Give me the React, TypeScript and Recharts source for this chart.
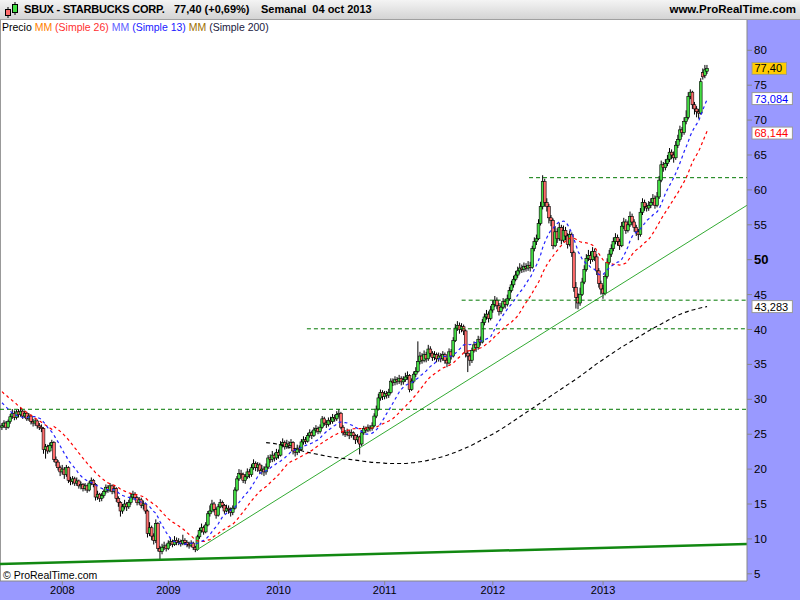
import React from "react";
import { ComposedChart, Bar, Line, XAxis, YAxis, ReferenceLine } from "recharts";

// weekly candles (index = week from the left edge)
const opens = [
  26.0, 26.2, 26.6, 26.0, 26.8, 27.5, 28.0, 27.4, 28.2, 27.8,
  28.3, 27.6, 28.0, 27.2, 27.6, 26.8, 26.6, 26.9, 26.2, 26.0,
  25.8, 22.8, 23.2, 22.6, 23.4, 23.8, 21.4, 21.0, 20.2, 19.6,
  20.0, 19.2, 20.2, 18.4, 18.2, 18.6, 18.0, 18.3, 17.6, 17.8,
  17.2, 17.6, 17.0, 18.0, 18.4, 17.8, 16.0, 16.4, 15.8, 16.2,
  16.8, 17.4, 17.0, 17.6, 16.8, 17.2, 15.8, 15.2, 14.0, 14.6,
  15.0, 14.6, 15.2, 16.0, 16.4, 15.9, 15.2, 15.6, 14.8, 15.0,
  14.0, 10.8, 11.6, 10.4, 9.8, 12.2, 8.6, 8.2, 8.8, 9.0,
  8.6, 9.4, 9.6, 9.2, 9.8, 9.5, 9.6, 9.3, 9.8, 9.5,
  9.2, 9.0, 9.4, 8.8, 8.5, 10.3, 11.2, 11.6, 11.0, 12.0,
  13.6, 14.0, 15.0, 14.2, 13.4, 14.6, 15.2, 14.8, 14.0, 14.4,
  14.2, 13.8, 14.4, 17.0, 18.6, 19.4, 19.2, 18.4, 18.9, 19.6,
  19.2, 20.2, 20.8, 20.2, 20.6, 19.8, 20.0, 19.6, 20.3, 21.6,
  21.4, 22.0, 21.6, 22.4, 22.0, 23.5, 23.8, 23.2, 23.6, 23.4,
  23.8, 22.6, 22.4, 23.0, 22.8, 23.9, 24.2, 24.0, 24.8, 25.2,
  24.8, 25.6, 25.8, 25.4, 26.0, 27.2, 26.6, 26.4, 27.0, 26.8,
  27.4, 27.2, 27.8, 28.0, 26.0, 25.2, 25.0, 25.3, 24.8, 25.2,
  24.8, 24.2, 24.6, 23.6, 25.2, 25.8, 25.6, 26.0, 25.8, 26.2,
  27.6, 28.6, 30.2, 31.0, 30.4, 30.8, 30.6, 31.0, 32.6, 32.4,
  32.8, 32.6, 33.0, 32.5, 32.8, 33.2, 33.4, 31.4, 32.6, 33.6,
  34.0, 35.4, 36.2, 35.6, 36.4, 35.8, 37.2, 36.6, 36.0, 36.4,
  35.8, 36.2, 35.8, 36.4, 35.6, 35.2, 36.8, 36.2, 38.4, 40.2,
  40.6, 40.0, 40.4, 39.8, 36.6, 36.2, 35.6, 37.0, 37.8, 37.4,
  38.6, 38.2, 41.0, 41.8, 42.2, 41.6, 42.8, 43.6, 44.2, 43.4,
  42.6, 43.2, 44.0, 43.6, 44.4, 45.6, 46.4, 47.2, 47.8, 48.4,
  48.8, 48.6, 49.0, 48.8, 49.2, 48.9, 51.6, 52.6, 53.0, 55.2,
  57.6, 61.2, 58.2, 57.6, 56.0, 55.6, 52.0, 54.0, 53.0, 54.6,
  52.8, 54.2, 53.4, 52.2, 53.6, 51.0, 46.0, 44.6, 43.8, 45.0,
  46.8, 48.6, 50.2, 50.6, 50.0, 51.2, 50.4, 48.4, 46.6, 45.8,
  45.2, 47.6, 49.6, 50.8, 51.6, 52.6, 53.2, 52.6, 52.0, 54.8,
  55.4, 54.2, 55.0, 56.2, 55.4, 54.6, 54.0, 53.6, 56.8, 58.2,
  57.6, 57.4, 57.8, 58.2, 58.8, 57.8, 59.0, 61.4, 63.6, 63.2,
  63.8, 64.4, 65.4, 65.0, 64.6, 66.4, 67.2, 68.6, 68.2, 69.8,
  70.4, 73.4, 74.0, 72.2, 71.6, 71.2, 71.0, 76.8, 76.4, 77.0,
];

const highs = [
  26.6, 27.0, 26.9, 27.1, 27.9, 28.6, 28.4, 28.5, 28.6, 28.9,
  28.5, 28.4, 28.2, 28.0, 27.8, 27.2, 27.3, 27.1, 26.6, 26.4,
  26.0, 23.6, 23.5, 23.8, 24.2, 24.0, 21.8, 21.3, 20.5, 20.6,
  20.3, 20.6, 20.4, 18.9, 19.0, 18.9, 18.8, 18.5, 18.2, 18.0,
  18.0, 17.8, 18.3, 18.8, 18.6, 18.0, 16.9, 16.6, 16.6, 17.1,
  17.8, 17.7, 18.0, 17.8, 17.6, 17.4, 16.1, 15.4, 15.0, 15.6,
  15.3, 15.6, 16.6, 16.9, 16.7, 16.1, 16.0, 15.9, 15.5, 15.2,
  14.2, 12.4, 11.9, 10.8, 12.8, 12.4, 9.0, 9.3, 9.6, 9.3,
  9.8, 10.2, 9.9, 10.4, 10.2, 10.1, 9.9, 10.6, 10.1, 9.8,
  9.6, 9.8, 9.6, 9.0, 10.6, 11.6, 12.2, 11.9, 12.4, 14.0,
  14.8, 15.6, 15.3, 14.5, 15.0, 15.7, 15.5, 15.0, 14.9, 14.8,
  14.5, 14.8, 17.4, 19.0, 20.0, 19.9, 19.5, 19.3, 20.1, 20.0,
  20.7, 21.4, 21.1, 21.0, 20.9, 20.6, 20.4, 20.8, 22.0, 22.1,
  22.6, 22.3, 22.9, 22.8, 24.0, 24.4, 24.1, 24.2, 24.0, 24.3,
  24.0, 23.0, 23.5, 23.4, 24.3, 24.7, 24.6, 25.2, 25.7, 25.5,
  26.0, 26.3, 26.1, 26.4, 27.6, 27.5, 27.0, 27.4, 27.5, 27.9,
  27.8, 28.3, 28.6, 28.2, 26.3, 25.6, 25.8, 25.6, 25.7, 25.4,
  25.0, 25.0, 24.8, 25.6, 26.2, 26.1, 26.4, 26.3, 26.7, 28.0,
  29.1, 30.8, 31.4, 31.3, 31.2, 31.2, 31.5, 33.0, 33.0, 33.3,
  33.2, 33.5, 33.3, 33.3, 33.8, 34.0, 33.6, 33.0, 34.0, 34.6,
  38.3, 36.8, 36.6, 37.0, 36.8, 37.8, 37.6, 36.9, 36.9, 36.7,
  36.7, 36.6, 36.9, 36.7, 35.9, 37.3, 37.2, 38.9, 40.8, 41.2,
  41.0, 40.9, 40.7, 40.0, 37.0, 36.6, 37.4, 38.3, 38.2, 39.1,
  39.0, 41.5, 42.3, 42.8, 42.6, 43.4, 44.2, 44.8, 44.6, 43.8,
  43.8, 44.5, 44.4, 45.0, 46.1, 47.0, 47.7, 48.4, 49.0, 49.5,
  49.3, 49.6, 49.5, 49.8, 49.7, 52.0, 53.2, 53.6, 55.8, 58.3,
  62.1, 61.6, 58.8, 58.0, 56.4, 55.9, 54.8, 54.5, 55.3, 55.0,
  54.9, 54.7, 53.8, 54.2, 53.9, 51.3, 46.8, 45.2, 46.0, 47.4,
  49.2, 50.8, 51.4, 51.2, 51.8, 51.6, 50.8, 48.8, 47.0, 46.4,
  48.0, 50.2, 51.4, 52.2, 53.2, 53.8, 53.6, 53.0, 55.4, 56.0,
  55.8, 55.6, 56.9, 56.6, 55.8, 55.0, 54.4, 57.4, 58.8, 58.6,
  58.1, 58.4, 58.8, 59.4, 59.2, 59.7, 62.0, 64.2, 64.0, 64.4,
  65.0, 66.0, 65.8, 65.5, 67.0, 67.9, 69.2, 69.0, 70.4, 71.4,
  74.0, 74.4, 74.2, 72.6, 72.0, 71.6, 76.0, 77.4, 77.9, 77.9,
];

const lows = [
  25.6, 25.9, 25.6, 25.8, 26.5, 27.2, 27.0, 27.1, 27.4, 27.5,
  27.2, 27.3, 26.9, 26.9, 26.4, 26.1, 26.2, 25.8, 25.6, 25.3,
  22.2, 21.5, 22.2, 22.4, 23.0, 21.0, 20.4, 19.8, 19.0, 19.2,
  18.6, 18.9, 18.0, 17.7, 17.8, 17.6, 17.6, 17.2, 17.1, 16.8,
  16.9, 16.6, 16.8, 17.7, 17.4, 15.5, 15.6, 15.3, 15.4, 15.9,
  16.5, 16.6, 16.7, 16.4, 16.5, 15.3, 14.6, 13.2, 13.6, 14.2,
  14.0, 14.3, 14.9, 15.6, 15.5, 14.8, 14.9, 14.4, 14.2, 13.6,
  10.2, 10.4, 9.8, 9.2, 9.4, 8.2, 7.1, 7.8, 8.4, 8.2,
  8.4, 9.0, 8.8, 9.0, 9.1, 9.1, 8.9, 9.1, 9.1, 8.8,
  8.6, 8.8, 8.4, 8.1, 8.3, 10.0, 10.9, 10.6, 10.8, 11.8,
  13.2, 13.8, 13.8, 12.9, 13.2, 14.4, 14.4, 13.6, 13.8, 13.6,
  13.2, 13.4, 14.2, 16.8, 18.3, 18.7, 18.0, 17.9, 18.6, 18.7,
  18.9, 19.9, 19.7, 19.6, 19.3, 19.2, 19.0, 19.2, 20.0, 20.9,
  21.0, 21.1, 21.3, 21.5, 21.8, 23.1, 22.8, 22.9, 22.9, 23.0,
  22.1, 21.8, 22.0, 22.3, 22.6, 23.5, 23.6, 23.8, 24.5, 24.3,
  24.6, 25.2, 25.0, 25.1, 25.8, 26.2, 25.9, 26.1, 26.4, 26.5,
  26.8, 26.9, 27.4, 25.7, 24.8, 24.6, 24.7, 24.3, 24.5, 24.2,
  23.6, 23.8, 22.1, 23.3, 24.9, 25.2, 25.3, 25.4, 25.5, 26.0,
  27.3, 28.4, 29.8, 29.9, 30.0, 30.1, 30.2, 30.8, 31.9, 32.0,
  32.1, 32.2, 32.0, 32.1, 32.5, 32.8, 31.0, 31.2, 32.3, 33.2,
  33.8, 35.0, 35.1, 35.3, 35.3, 35.5, 36.1, 35.5, 35.6, 35.3,
  35.4, 35.3, 35.5, 35.1, 34.6, 35.0, 35.7, 36.0, 38.2, 39.8,
  39.4, 39.6, 39.2, 36.0, 33.9, 34.8, 35.2, 36.7, 36.8, 37.1,
  37.7, 38.0, 40.6, 41.4, 41.0, 41.3, 42.4, 43.2, 42.9, 42.0,
  42.2, 42.9, 43.0, 43.3, 44.1, 45.3, 46.0, 46.9, 47.4, 48.0,
  48.1, 48.2, 48.3, 48.4, 48.3, 48.7, 51.2, 52.1, 52.8, 54.9,
  57.2, 57.6, 56.9, 55.2, 54.8, 51.5, 51.8, 52.4, 52.7, 52.2,
  52.5, 52.8, 51.6, 51.9, 50.4, 45.4, 43.0, 42.9, 43.4, 44.8,
  46.5, 48.3, 49.8, 49.4, 49.7, 49.8, 47.8, 46.0, 45.0, 44.4,
  44.9, 47.3, 49.3, 50.4, 51.2, 52.2, 52.0, 51.4, 51.8, 54.4,
  53.7, 53.9, 54.7, 54.9, 54.0, 53.4, 52.8, 53.3, 56.4, 57.0,
  56.9, 57.0, 57.4, 57.8, 57.3, 57.5, 58.7, 61.1, 62.6, 62.8,
  63.4, 64.0, 64.4, 63.9, 64.3, 66.0, 66.9, 67.6, 67.9, 69.4,
  70.1, 73.0, 71.6, 70.8, 70.4, 70.2, 70.8, 75.8, 76.0, 76.6,
];

const closes = [
  26.2, 26.6, 26.0, 26.8, 27.5, 28.0, 27.4, 28.2, 27.8, 28.3,
  27.6, 28.0, 27.2, 27.6, 26.8, 26.6, 26.9, 26.2, 26.0, 25.8,
  22.8, 23.2, 22.6, 23.4, 23.8, 21.4, 21.0, 20.2, 19.6, 20.0,
  19.2, 20.2, 18.4, 18.2, 18.6, 18.0, 18.3, 17.6, 17.8, 17.2,
  17.6, 17.0, 18.0, 18.4, 17.8, 16.0, 16.4, 15.8, 16.2, 16.8,
  17.4, 17.0, 17.6, 16.8, 17.2, 15.8, 15.2, 14.0, 14.6, 15.0,
  14.6, 15.2, 16.0, 16.4, 15.9, 15.2, 15.6, 14.8, 15.0, 14.0,
  10.8, 11.6, 10.4, 9.8, 12.2, 8.6, 8.2, 8.8, 9.0, 8.6,
  9.4, 9.6, 9.2, 9.8, 9.5, 9.6, 9.3, 9.8, 9.5, 9.2,
  9.0, 9.4, 8.8, 8.5, 10.3, 11.2, 11.6, 11.0, 12.0, 13.6,
  14.0, 15.0, 14.2, 13.4, 14.6, 15.2, 14.8, 14.0, 14.4, 14.2,
  13.8, 14.4, 17.0, 18.6, 19.4, 19.2, 18.4, 18.9, 19.6, 19.2,
  20.2, 20.8, 20.2, 20.6, 19.8, 20.0, 19.6, 20.3, 21.6, 21.4,
  22.0, 21.6, 22.4, 22.0, 23.5, 23.8, 23.2, 23.6, 23.4, 23.8,
  22.6, 22.4, 23.0, 22.8, 23.9, 24.2, 24.0, 24.8, 25.2, 24.8,
  25.6, 25.8, 25.4, 26.0, 27.2, 26.6, 26.4, 27.0, 26.8, 27.4,
  27.2, 27.8, 28.0, 26.0, 25.2, 25.0, 25.3, 24.8, 25.2, 24.8,
  24.2, 24.6, 23.6, 25.2, 25.8, 25.6, 26.0, 25.8, 26.2, 27.6,
  28.6, 30.2, 31.0, 30.4, 30.8, 30.6, 31.0, 32.6, 32.4, 32.8,
  32.6, 33.0, 32.5, 32.8, 33.2, 33.4, 31.4, 32.6, 33.6, 34.0,
  35.4, 36.2, 35.6, 36.4, 35.8, 37.2, 36.6, 36.0, 36.4, 35.8,
  36.2, 35.8, 36.4, 35.6, 35.2, 36.8, 36.2, 38.4, 40.2, 40.6,
  40.0, 40.4, 39.8, 36.6, 36.2, 35.6, 37.0, 37.8, 37.4, 38.6,
  38.2, 41.0, 41.8, 42.2, 41.6, 42.8, 43.6, 44.2, 43.4, 42.6,
  43.2, 44.0, 43.6, 44.4, 45.6, 46.4, 47.2, 47.8, 48.4, 48.8,
  48.6, 49.0, 48.8, 49.2, 48.9, 51.6, 52.6, 53.0, 55.2, 57.6,
  61.2, 58.2, 57.6, 56.0, 55.6, 52.0, 54.0, 53.0, 54.6, 52.8,
  54.2, 53.4, 52.2, 53.6, 51.0, 46.0, 44.6, 43.8, 45.0, 46.8,
  48.6, 50.2, 50.6, 50.0, 51.2, 50.4, 48.4, 46.6, 45.8, 45.2,
  47.6, 49.6, 50.8, 51.6, 52.6, 53.2, 52.6, 52.0, 54.8, 55.4,
  54.2, 55.0, 56.2, 55.4, 54.6, 54.0, 53.6, 56.8, 58.2, 57.6,
  57.4, 57.8, 58.2, 58.8, 57.8, 59.0, 61.4, 63.6, 63.2, 63.8,
  64.4, 65.4, 65.0, 64.6, 66.4, 67.2, 68.6, 68.2, 69.8, 70.4,
  73.4, 74.0, 72.2, 71.6, 71.2, 71.0, 75.5, 76.2, 77.2, 77.4,
];

// averages before enough weeks are on screen
const ma13Head = [29.5, 29.2, 28.9, 28.6, 28.3, 28.0, 27.9, 27.7, 27.6, 27.5, 27.4, 27.3];
const ma26Head = [
  31.1, 30.8, 30.6, 30.3, 30.1, 29.8, 29.6, 29.3, 29.0, 28.8, 28.5, 28.3, 28.1,
  27.9, 27.7, 27.5, 27.3, 27.1, 26.9, 26.7, 26.5, 26.3, 26.1, 25.9, 25.7,
];

// 200-week average, read every few weeks
const ma200Weeks = [
  127, 132, 137, 142, 147, 152, 157, 162, 167, 172, 177, 182, 187, 192, 197, 202, 207,
  212, 217, 222, 227, 232, 237, 242, 247, 252, 257, 262, 267, 272, 277, 282, 287, 292,
  297, 302, 307, 312, 317, 322, 327, 332, 339,
];
const ma200Values = [
  23.8, 23.6, 23.2, 22.8, 22.4, 22.1, 21.8, 21.6, 21.4, 21.2, 21.0, 20.9, 20.8, 20.8,
  20.9, 21.1, 21.4, 21.8, 22.3, 22.9, 23.6, 24.4, 25.2, 26.1, 27.1, 28.1, 29.1, 30.1,
  31.1, 32.1, 33.1, 34.2, 35.3, 36.3, 37.3, 38.2, 39.1, 40.0, 40.8, 41.6, 42.3, 42.8,
  43.283,
];

const yearTicks = [29, 80, 133, 184, 236, 289];
const yearLabels = ["2008", "2009", "2010", "2011", "2012", "2013"];
const priceTicks = [5, 10, 15, 20, 25, 30, 35, 40, 45, 50, 55, 60, 65, 70, 75, 80];

// horizontal support / resistance levels and the week each one starts at
const levelValues = [28.57, 40.1, 44.2, 61.75];
const levelStarts = [-0.96, 146.6, 221, 253.4];

// trend lines: [week, price] pairs
const trendUp = [[93.5, 8.4], [358.2, 57.8]];
const trendLong = [[-0.96, 6.4], [358.2, 9.27]];

const tagValues = [77.4, 73.084, 68.144, 43.283];
const tagTexts = ["77,40", "73,084", "68,144", "43,283"];
const tagColors = ["#000", "#0000ff", "#ff0000", "#000"];
const tagFills = ["#ffcc00", "#ffffff", "#ffffff", "#ffffff"];

const WEEK_MIN = -0.96;
const WEEK_MAX = 358.2;

const sma = (n: number, head: number[]) =>
  closes.map((_, i) => {
    if (i < n - 1) return head[i];
    let s = 0;
    for (let k = i - n + 1; k <= i; k++) s += closes[k];
    return s / n;
  });

const ma13 = sma(13, ma13Head);
const ma26 = sma(26, ma26Head);

const rows = closes.map((c, i) => {
  const j = ma200Weeks.indexOf(i);
  return {
    week: i,
    open: opens[i],
    high: highs[i],
    low: lows[i],
    close: c,
    range: [lows[i], highs[i]],
    ma13: ma13[i],
    ma26: ma26[i],
    ma200: j >= 0 ? ma200Values[j] : null,
  };
});

const Candle = (props: any) => {
  const { x, y, width, height, payload } = props;
  if (!payload || !height) return null;
  const { open, close, high, low } = payload;
  const k = height / (high - low);
  const cx = x + width / 2;
  const top = y + (high - Math.max(open, close)) * k;
  const bot = y + (high - Math.min(open, close)) * k;
  const up = close >= open;
  return (
    <g>
      <line x1={cx} x2={cx} y1={y} y2={y + height} stroke="#000" strokeWidth={1} />
      <rect
        x={cx - 1.4}
        y={top}
        width={2.8}
        height={Math.max(bot - top, 0.8)}
        fill={up ? "#44dd44" : "#ff6c6c"}
        stroke="#000"
        strokeWidth={0.6}
      />
    </g>
  );
};

const PriceTick = (props: any) => {
  const { x, y, payload } = props;
  const big = payload.value === 50;
  return (
    <text x={x} y={y} dy={4} fontSize={big ? 13 : 11.5} fontWeight={big ? "bold" : "normal"} fill="#000">
      {payload.value}
    </text>
  );
};

const Tag = (props: any) => {
  const { viewBox, text, color, fill } = props;
  if (!viewBox) return null;
  const x = viewBox.x + viewBox.width + 5;
  const w = text.length * 5.9 + 5;
  return (
    <g>
      <rect x={x} y={viewBox.y - 6} width={w} height={12} fill={fill} stroke="#999" />
      <text x={x + 2.5} y={viewBox.y + 4} fontSize={11} fill={color}>
        {text}
      </text>
    </g>
  );
};

const Icon = () => (
  <svg width={16} height={18} style={{ position: "absolute", left: 3, top: 1 }}>
    <line x1={5} x2={5} y1={6} y2={17} stroke="#000" />
    <rect x={2.5} y={8.5} width={5} height={6} fill="#ff6c6c" stroke="#000" />
    <line x1={12} x2={12} y1={1} y2={14} stroke="#000" />
    <rect x={9.5} y={3.5} width={5} height={8} fill="#44dd44" stroke="#000" />
  </svg>
);

export default function App() {
  const font = '"Liberation Sans", Arial, sans-serif';
  return (
    <div
      style={{
        position: "absolute",
        left: 0,
        top: 0,
        width: 800,
        height: 600,
        background: "#9999ff",
        fontFamily: font,
        overflow: "hidden",
      }}
    >
      <div
        style={{
          position: "absolute",
          left: 0,
          top: 0,
          width: 800,
          height: 20,
          boxSizing: "border-box",
          background: "linear-gradient(#f4f4f4, #d4d4d4)",
          borderBottom: "1px solid #a0a0a0",
          fontSize: 11,
          fontWeight: "bold",
          color: "#000",
          whiteSpace: "pre",
        }}
      >
        <Icon />
        <span style={{ position: "absolute", left: 24, top: 3, letterSpacing: -0.2 }}>SBUX - STARBUCKS CORP.</span>
        <span style={{ position: "absolute", left: 174, top: 3 }}>77,40 (+0,69%)</span>
        <span style={{ position: "absolute", left: 261, top: 3 }}>Semanal  04 oct 2013</span>
        <span style={{ position: "absolute", right: 4, top: 3, fontSize: 11.5 }}>www.ProRealTime.com</span>
      </div>

      <div
        style={{
          position: "absolute",
          left: 0,
          top: 20,
          width: 747,
          height: 561,
          boxSizing: "border-box",
          background: "#fff",
          borderLeft: "1px solid #999",
        }}
      />

      <div style={{ position: "absolute", left: 0, top: 20 }}>
        <ComposedChart width={800} height={580} data={rows} margin={{ top: 0, right: 0, bottom: 0, left: 0 }}>
          <XAxis
            dataKey="week"
            type="number"
            domain={[WEEK_MIN, WEEK_MAX]}
            allowDataOverflow
            ticks={yearTicks}
            interval={0}
            tickFormatter={(v: number) => yearLabels[yearTicks.indexOf(v)]}
            height={19}
            tickSize={4}
            tickMargin={1}
            axisLine={{ stroke: "#888" }}
            tickLine={{ stroke: "#888" }}
            tick={{ fontSize: 11, fill: "#000" }}
          />
          <YAxis
            orientation="right"
            type="number"
            width={53}
            domain={[3.97, 84.34]}
            allowDataOverflow
            ticks={priceTicks}
            interval={0}
            tickSize={5}
            tickMargin={2}
            axisLine={{ stroke: "#888" }}
            tickLine={{ stroke: "#888" }}
            tick={<PriceTick />}
          />

          <ReferenceLine
            segment={[
              { x: trendLong[0][0], y: trendLong[0][1] },
              { x: trendLong[1][0], y: trendLong[1][1] },
            ]}
            stroke="#118811"
            strokeWidth={2.5}
            ifOverflow="visible"
          />
          <ReferenceLine
            segment={[
              { x: trendUp[0][0], y: trendUp[0][1] },
              { x: trendUp[1][0], y: trendUp[1][1] },
            ]}
            stroke="#33aa33"
            strokeWidth={1}
            ifOverflow="visible"
          />
          {levelValues.map((v, i) => (
            <ReferenceLine
              key={"lv" + i}
              segment={[
                { x: levelStarts[i], y: v },
                { x: WEEK_MAX, y: v },
              ]}
              stroke="#007700"
              strokeDasharray="4 3"
              ifOverflow="visible"
            />
          ))}

          <Line dataKey="ma200" type="monotone" connectNulls stroke="#000" strokeWidth={1.1} strokeDasharray="4 3" dot={false} isAnimationActive={false} />
          <Line dataKey="ma26" type="linear" stroke="#ff0000" strokeWidth={1.2} strokeDasharray="3 3" dot={false} isAnimationActive={false} />
          <Line dataKey="ma13" type="linear" stroke="#2222ff" strokeWidth={1.2} strokeDasharray="3 3" dot={false} isAnimationActive={false} />
          <Bar dataKey="range" barSize={3} shape={<Candle />} isAnimationActive={false} />

          {tagValues.map((v, i) => (
            <ReferenceLine
              key={"tag" + i}
              y={v}
              stroke="none"
              ifOverflow="visible"
              label={<Tag text={tagTexts[i]} color={tagColors[i]} fill={tagFills[i]} />}
            />
          ))}
        </ComposedChart>
      </div>

      <div style={{ position: "absolute", left: 2, top: 21, fontSize: 10.5, whiteSpace: "pre" }}>
        <span style={{ color: "#000" }}>Precio </span>
        <span style={{ color: "#ff8000" }}>MM </span>
        <span style={{ color: "#ff3030" }}>(Simple 26) </span>
        <span style={{ color: "#6060ff" }}>MM </span>
        <span style={{ color: "#2020ff" }}>(Simple 13) </span>
        <span style={{ color: "#a07000" }}>MM </span>
        <span style={{ color: "#202040" }}>(Simple 200)</span>
      </div>

      <div style={{ position: "absolute", left: 3, top: 569, fontSize: 10.5, color: "#000" }}>© ProRealTime.com</div>
    </div>
  );
}
